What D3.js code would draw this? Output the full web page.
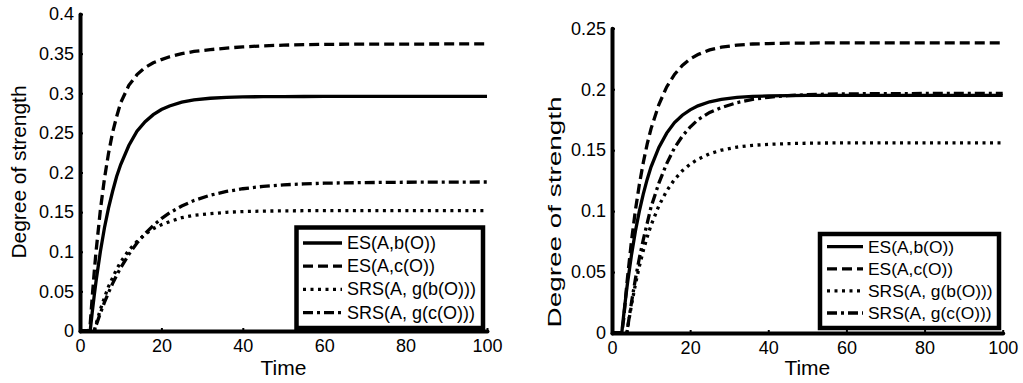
<!DOCTYPE html>
<html>
<head>
<meta charset="utf-8">
<script src="https://cdn.jsdelivr.net/npm/d3@7"></script>
<style>
  body { margin: 0; background: #fff; }
  svg { display: block; }
  svg text { font-family: "Liberation Sans", Arial, Helvetica, sans-serif; fill: #000; }
</style>
</head>
<body>
<svg id="chart" width="1023" height="383"></svg>
<script>
// shared time samples
const time = [0, 2, 2.5, 3, 3.5, 3.8, 4, 5, 6, 7, 8, 9, 10, 12, 14, 16, 18, 20, 22, 25, 28, 32, 36, 40, 45, 50, 55, 60, 70, 80, 90, 100];

// left panel
const leftESb = [0, 0, 0, 0.0234, 0.045, 0.057, 0.065, 0.100, 0.130, 0.155, 0.176, 0.195, 0.210, 0.234, 0.252, 0.264, 0.273, 0.2795, 0.284, 0.2888, 0.2916, 0.2937, 0.2948, 0.2954, 0.2957, 0.2958, 0.2959, 0.296, 0.296, 0.296, 0.296, 0.296];
const leftESc = [0, 0, 0.008, 0.043, 0.0746, 0.0923, 0.103, 0.1525, 0.192, 0.224, 0.2503, 0.2705, 0.288, 0.310, 0.3235, 0.3325, 0.3385, 0.3425, 0.346, 0.350, 0.3527, 0.355, 0.357, 0.3585, 0.3598, 0.3607, 0.3613, 0.3617, 0.362, 0.362, 0.3622, 0.3622];
const leftSRSgb = [0, 0, 0, 0, 0, 0.0058, 0.0096, 0.027, 0.042, 0.056, 0.067, 0.078, 0.087, 0.102, 0.113, 0.122, 0.129, 0.134, 0.138, 0.143, 0.146, 0.148, 0.1498, 0.1507, 0.1513, 0.1516, 0.1518, 0.1519, 0.152, 0.152, 0.152, 0.152];
const leftSRSgc = [0, 0, 0, 0, 0, 0.0047, 0.0078, 0.0225, 0.036, 0.0484, 0.0598, 0.0702, 0.0798, 0.0967, 0.111, 0.123, 0.1332, 0.1418, 0.149, 0.1577, 0.1646, 0.1713, 0.1761, 0.1795, 0.1825, 0.1844, 0.1856, 0.1865, 0.1873, 0.1877, 0.1879, 0.188];

// right panel
const rightESb = [0, 0, 0, 0.015, 0.0288, 0.0367, 0.0416, 0.0643, 0.0837, 0.100, 0.114, 0.126, 0.1363, 0.1523, 0.164, 0.1726, 0.1787, 0.1831, 0.1864, 0.1897, 0.1917, 0.1933, 0.1941, 0.1945, 0.1948, 0.1949, 0.195, 0.195, 0.195, 0.195, 0.195, 0.195];
const rightESc = [0, 0, 0, 0.0116, 0.0298, 0.040, 0.0464, 0.0759, 0.1009, 0.1219, 0.1397, 0.155, 0.1677, 0.1875, 0.2019, 0.2122, 0.2195, 0.2248, 0.2285, 0.2323, 0.2345, 0.2362, 0.2371, 0.2375, 0.2378, 0.2379, 0.238, 0.238, 0.238, 0.238, 0.238, 0.238];
const rightSRSgb = [0, 0, 0, 0, 0, 0, 0.0042, 0.0233, 0.0401, 0.0547, 0.0675, 0.0787, 0.0885, 0.1044, 0.1166, 0.126, 0.1331, 0.1385, 0.1426, 0.1471, 0.150, 0.1525, 0.154, 0.1548, 0.1554, 0.1557, 0.1559, 0.156, 0.156, 0.156, 0.156, 0.156];
const rightSRSgc = [0, 0, 0, 0, 0, 0, 0.0045, 0.0253, 0.0445, 0.0615, 0.0765, 0.090, 0.1035, 0.123, 0.139, 0.152, 0.1615, 0.169, 0.175, 0.181, 0.185, 0.189, 0.1917, 0.1934, 0.1948, 0.1955, 0.196, 0.1962, 0.1964, 0.1965, 0.1965, 0.1965];

const seriesNames = ['ES(A,b(O))', 'ES(A,c(O))', 'SRS(A, g(b(O)))', 'SRS(A, g(c(O)))'];
const xTicks = [0, 20, 40, 60, 80, 100];
const leftYTicks = [0, 0.05, 0.1, 0.15, 0.2, 0.25, 0.3, 0.35, 0.4];
const rightYTicks = [0, 0.05, 0.1, 0.15, 0.2, 0.25];

const dashes = [null, '10,5', '3,4.5', '10,4,3,4'];

const svg = d3.select('#chart');

function drawPanel(p) {
  const x = d3.scaleLinear().domain([0, 100]).range(p.xr);
  const y = d3.scaleLinear().domain(p.yd).range(p.yr);
  const g = svg.append('g');

  const xAxis = g.append('g')
    .attr('transform', `translate(0,${p.yr[0]})`)
    .call(d3.axisBottom(x).tickValues(xTicks).tickSizeInner(-3).tickSizeOuter(0).tickPadding(8));
  const yAxis = g.append('g')
    .attr('transform', `translate(${p.xr[0]},0)`)
    .call(d3.axisLeft(y).tickValues(p.yTicks).tickSizeInner(-3).tickSizeOuter(0).tickPadding(6)
      .tickFormat(d => String(+d.toFixed(2))));

  [xAxis, yAxis].forEach(a => {
    a.attr('font-family', null).attr('font-size', null);
    a.select('.domain').attr('stroke', '#000').attr('stroke-width', 4).attr('stroke-linecap', 'round');
    a.selectAll('.tick line').attr('stroke', '#000').attr('stroke-width', 2);
    a.selectAll('.tick text').attr('font-size', 18);
  });

  const line = d3.line().x((d, i) => x(time[i])).y(d => y(d));
  p.series.forEach((s, i) => {
    g.append('path')
      .datum(s)
      .attr('d', line)
      .attr('fill', 'none')
      .attr('stroke', '#000')
      .attr('stroke-width', 3.3)
      .attr('stroke-dasharray', dashes[i]);
  });

  // axis titles
  g.append('text')
    .attr('x', (p.xr[0] + p.xr[1]) / 2)
    .attr('y', 375)
    .attr('text-anchor', 'middle')
    .attr('font-size', 21)
    .text('Time');
  g.append('text')
    .attr('transform', `translate(${p.ylx},${p.yly}) rotate(-90)`)
    .attr('text-anchor', 'middle')
    .attr('font-size', p.ylFs)
    .attr('textLength', p.ylLen)
    .attr('lengthAdjust', 'spacingAndGlyphs')
    .text('Degree of strength');

  // legend
  const lg = p.legend;
  g.append('rect')
    .attr('x', lg.x).attr('y', lg.y).attr('width', lg.w).attr('height', lg.h)
    .attr('fill', '#fff').attr('stroke', '#000').attr('stroke-width', 4.5);
  seriesNames.forEach((name, i) => {
    const cy = lg.rowY + i * lg.step;
    g.append('line')
      .attr('x1', lg.lx1).attr('x2', lg.lx2).attr('y1', cy - 1).attr('y2', cy - 1)
      .attr('stroke', '#000').attr('stroke-width', 3.3)
      .attr('stroke-dasharray', dashes[i]);
    g.append('text')
      .attr('x', lg.tx).attr('y', cy + 5)
      .attr('font-size', lg.fs)
      .text(name);
  });
}

drawPanel({
  xr: [80, 487], yr: [331, 14], yd: [0, 0.4], yTicks: leftYTicks,
  series: [leftESb, leftESc, leftSRSgb, leftSRSgc],
  ylx: 26, yly: 172, ylLen: 173, ylFs: 20,
  legend: { x: 296.5, y: 227.5, w: 186.5, h: 100.5, lx1: 303, lx2: 342, tx: 347, rowY: 244, step: 23.2, fs: 18 }
});

drawPanel({
  xr: [612, 1002.7], yr: [333, 28.3], yd: [0, 0.25], yTicks: rightYTicks,
  series: [rightESb, rightESc, rightSRSgb, rightSRSgc],
  ylx: 561, yly: 212, ylLen: 231, ylFs: 19,
  legend: { x: 820, y: 234, w: 179, h: 94, lx1: 827, lx2: 863, tx: 868, rowY: 247.7, step: 22.1, fs: 17.4 }
});
</script>
</body>
</html>
